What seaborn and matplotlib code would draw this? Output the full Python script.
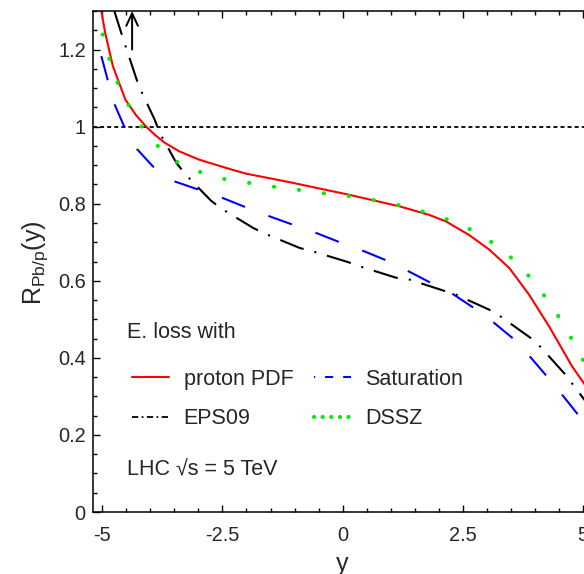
import numpy as np
import matplotlib
matplotlib.use("Agg")
import matplotlib.pyplot as plt
from matplotlib.lines import Line2D
import seaborn as sns

# values
pdf_x = [-5.02, -4.94, -4.78, -4.52, -4.30, -4.09, -3.90, -3.70, -3.40, -3.00, -2.77, -2.35,
         -2.01, -1.11, 0.14, 1.19, 1.80, 2.15, 2.63, 3.05, 3.47, 3.88, 4.30, 4.78, 5.10]
pdf_y = [1.300, 1.243, 1.157, 1.070, 1.030, 1.000, 0.978, 0.958, 0.936, 0.915, 0.906, 0.890,
         0.878, 0.856, 0.823, 0.793, 0.771, 0.754, 0.719, 0.681, 0.633, 0.564, 0.481, 0.377, 0.320]

eps_x = [-4.75, -4.57, -4.24, -3.91, -3.81, -3.46, -3.27, -2.74, -2.52, -1.86, -1.61, -0.89,
         -0.64, 0.10, 0.37, 1.11, 1.37, 2.11, 2.36, 3.05, 3.29, 3.92, 4.12, 4.64, 5.10]
eps_y = [1.300, 1.229, 1.105, 1.018, 0.985, 0.906, 0.876, 0.808, 0.787, 0.737, 0.722, 0.685,
         0.677, 0.649, 0.637, 0.608, 0.604, 0.574, 0.564, 0.525, 0.507, 0.451, 0.428, 0.356, 0.280]

sat_x = [-5.02, -4.89, -4.75, -4.55, -4.28, -3.95, -3.50, -3.01, -2.52, -2.04, -1.56, -1.07,
         -0.57, -0.10, 0.40, 0.87, 1.35, 1.80, 2.29, 2.70, 3.14, 3.53, 3.90, 4.23, 4.57, 4.89, 5.10]
sat_y = [1.183, 1.122, 1.059, 1.002, 0.942, 0.897, 0.858, 0.837, 0.816, 0.792, 0.769, 0.747,
         0.725, 0.702, 0.679, 0.655, 0.626, 0.597, 0.566, 0.532, 0.492, 0.452, 0.403, 0.355, 0.304, 0.254, 0.220]

dssz_x = [-4.99, -4.85, -4.68, -4.45, -4.17, -3.84, -3.44, -2.96, -2.46, -1.95, -1.44, -0.92, -0.40,
          0.12, 0.62, 1.14, 1.64, 2.14, 2.63, 3.07, 3.48, 3.85, 4.17, 4.47, 4.73, 4.98, 5.10]
dssz_y = [1.239, 1.174, 1.113, 1.055, 0.999, 0.949, 0.908, 0.882, 0.864, 0.854, 0.844, 0.836, 0.827,
          0.820, 0.810, 0.797, 0.781, 0.761, 0.735, 0.703, 0.663, 0.616, 0.566, 0.512, 0.457, 0.400, 0.372]

x_ticks = [-5, -2.5, 0, 2.5, 5]
x_ticklabels = ["-5", "-2.5", "0", "2.5", "5"]
y_ticks = [0, 0.2, 0.4, 0.6, 0.8, 1.0, 1.2]
y_ticklabels = ["0", "0.2", "0.4", "0.6", "0.8", "1", "1.2"]
arrow_x = -4.38

sns.set_theme(style="ticks")
plt.rcParams['font.family'] = ['Liberation Sans', 'DejaVu Sans']
plt.rcParams['mathtext.default'] = 'regular'
plt.rcParams['axes.unicode_minus'] = False
plt.rcParams['lines.scale_dashes'] = False

W, H = 584, 574
fig = plt.figure(figsize=(W / 100, H / 100), dpi=100)
ax = fig.add_axes([92.7 / W, 62 / H, 499.8 / W, 501 / H])

RED, BLUE, GREEN = "#ff0000", "#0000ff", "#00ee00"

ax.axhline(1.0, color="black", lw=1.3, linestyle=(0, (2.9, 2.2)))

sns.lineplot(x=pdf_x, y=pdf_y, ax=ax, color=RED, lw=1.5, sort=False, estimator=None)
sns.lineplot(x=sat_x, y=sat_y, ax=ax, color=BLUE, lw=1.5, sort=False, estimator=None,
             linestyle=(0, (18, 18)))
sns.lineplot(x=eps_x, y=eps_y, ax=ax, color="black", lw=1.5, sort=False, estimator=None,
             linestyle=(0, (18, 8, 1.5, 8)))
sns.lineplot(x=dssz_x, y=dssz_y, ax=ax, color=GREEN, lw=3.0, sort=False, estimator=None,
             linestyle=(0, (0.1, 18)), dash_capstyle="round")

ax.annotate("", xy=(arrow_x, 1.3), xytext=(arrow_x, 1.2),
            arrowprops=dict(arrowstyle="->,head_length=0.75,head_width=0.35",
                            color="black", lw=1.4, shrinkA=0, shrinkB=0),
            annotation_clip=False)

ax.set_xlim(-5.2, 5.2)
ax.set_ylim(0, 1.3)
ax.set_xticks(x_ticks)
ax.set_xticklabels(x_ticklabels)
ax.set_yticks(y_ticks)
ax.set_yticklabels(y_ticklabels)
ax.set_xticks(np.arange(-5, 5.01, 0.5), minor=True)
ax.set_yticks(np.arange(0, 1.301, 0.05), minor=True)
ax.tick_params(which="both", direction="in", top=True, right=True, width=1, color="black")
ax.tick_params(which="major", length=5)
ax.tick_params(which="minor", length=2.9)
ax.tick_params(axis="y", labelsize=14.4, pad=5)
ax.tick_params(axis="x", labelsize=14.4, pad=10)
for s in ax.spines.values():
    s.set_linewidth(1.1)
    s.set_color("black")

ax.set_xlabel("y", fontsize=18)
ax.xaxis.set_label_coords(0.5, -0.079)
ax.set_ylabel(r"$\mathregular{R_{Pb/p}(y)}$", fontsize=18)
ax.yaxis.set_label_coords(-0.085, 0.497)

handles = [
    Line2D([], [], color=RED, lw=1.5),
    Line2D([], [], color="black", lw=1.3, linestyle=(0, (4.5, 2.5, 1.2, 2.5))),
    Line2D([], [], color=BLUE, lw=1.5, linestyle=(5, (5.8, 7.2))),
    Line2D([], [], color=GREEN, lw=3.0, linestyle=(0, (0.1, 6.1)), dash_capstyle="round"),
]
labels = ["proton PDF", "EPS09", "Saturation", "DSSZ"]
leg = ax.legend(handles, labels, ncol=2, frameon=False, fontsize=15.5,
                handlelength=1.72, handletextpad=0.68, columnspacing=0.95,
                labelspacing=0.88, borderpad=0, borderaxespad=0,
                loc="center left", bbox_to_anchor=(132 / W, 1 - 399 / H),
                bbox_transform=fig.transFigure)

fig.text(126.7 / W, 1 - 338.3 / H, "E. loss with", fontsize=15.5, va="baseline", ha="left")
fig.text(126.7 / W, 1 - 475 / H, "LHC \u221as = 5 TeV", fontsize=15.5, va="baseline", ha="left")

fig.savefig("out.png", dpi=100)
